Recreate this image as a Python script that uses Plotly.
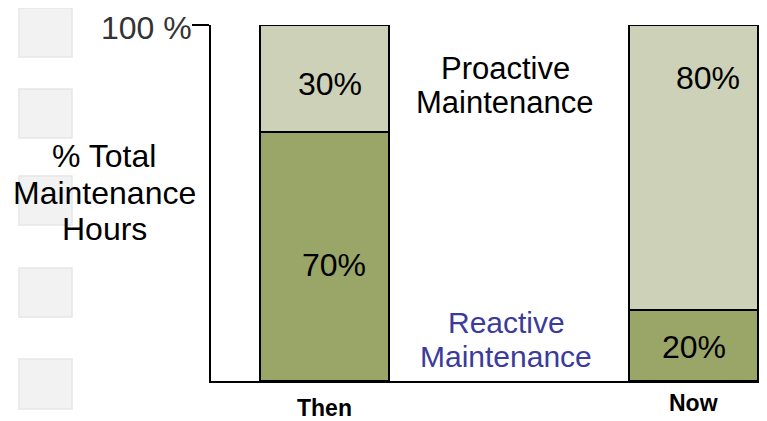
import plotly.graph_objects as go

categories = ["Then", "Now"]
reactive = [70, 20]
proactive = [30, 80]
reactive_labels = ["70%", "20%"]
proactive_labels = ["30%", "80%"]
y_tick_label = "100 %"

OFF = 8  # default page body margin
W, H = 767 - OFF, 421 - OFF
L, R, T, B = 211 - OFF, 0, 25 - OFF, 40
PW, PH = W - L - R, H - T - B

def px2paper(px, py):
    return (px - OFF - L) / PW, (H - B - (py - OFF)) / PH

FONT = "Liberation Sans, Arial, sans-serif"
dark = "#9aa568"
light = "#ccd1b8"
xs = [0, 1]

fig = go.Figure()
fig.add_trace(go.Bar(x=xs, y=reactive, marker=dict(color=dark, line=dict(color="black", width=1.5)),
                     width=0.35, showlegend=False, hoverinfo="skip"))
fig.add_trace(go.Bar(x=xs, y=proactive, marker=dict(color=light, line=dict(color="black", width=1.5)),
                     width=0.35, showlegend=False, hoverinfo="skip"))

ann = []
SZ = 32
# bar value labels (positions relative to data)
ann.append(dict(x=xs[0] + 0.025, y=reactive[0] / 2 - 2.4, xref="x", yref="y",
                text=reactive_labels[0], showarrow=False, font=dict(family=FONT, size=SZ, color="black")))
ann.append(dict(x=xs[1] + 0.0, y=reactive[1] / 2 - 0.5, xref="x", yref="y",
                text=reactive_labels[1], showarrow=False, font=dict(family=FONT, size=SZ, color="black")))
ann.append(dict(x=xs[0] + 0.015, y=reactive[0] + proactive[0] / 2 - 1.7, xref="x", yref="y",
                text=proactive_labels[0], showarrow=False, font=dict(family=FONT, size=SZ, color="black")))
ann.append(dict(x=xs[1] + 0.04, y=reactive[1] + proactive[1] / 2 + 25, xref="x", yref="y",
                text=proactive_labels[1], showarrow=False, font=dict(family=FONT, size=SZ, color="black")))

def txt(px, py, s, color="black", size=SZ, bold=False, h=None):
    x, y = px2paper(px, py)
    d = dict(x=x, y=y, xref="paper", yref="paper", text=("<b>%s</b>" % s) if bold else s,
             showarrow=False, font=dict(family=FONT, size=size, color=color),
             xanchor="center", yanchor="middle", valign="middle")
    if h:
        d["height"] = h
    ann.append(d)

txt(505, 68, "Proactive", size=31, h=33)
txt(505, 102, "Maintenance", size=31, h=33)
txt(506, 322.5, "Reactive", color="#3b3b9b", size=30, h=33)
txt(506, 356.5, "Maintenance", color="#3b3b9b", size=30, h=33)
txt(104, 155, "% Total", h=35)
txt(104, 192, "Maintenance", h=35)
txt(104, 228, "Hours", h=35)
txt(146, 28, y_tick_label, color="#333333")
txt(324, 408, categories[0], size=23, bold=True)
txt(693, 403, categories[1], size=23, bold=True)

shapes = []
for (y0, y1) in [(8, 57), (89, 138), (176, 225), (268, 317), (359, 409)]:
    x0p, y0p = px2paper(19, y1)
    x1p, y1p = px2paper(72, y0)
    shapes.append(dict(type="rect", xref="paper", yref="paper", x0=x0p, x1=x1p, y0=y0p, y1=y1p,
                       fillcolor="#f2f2f2", line=dict(color="#e6e6e6", width=1.5), layer="below"))

fig.update_layout(
    width=W, height=H, margin=dict(l=L, r=R, t=T, b=B),
    barmode="stack", plot_bgcolor="white", paper_bgcolor="white",
    xaxis=dict(range=[-(324.5 - 211) / 369, (767 - 324.5) / 369], tickvals=xs,
               showticklabels=False,
               showline=True, linecolor="black", linewidth=2, showgrid=False, zeroline=False,
               ticks="", fixedrange=True),
    yaxis=dict(range=[0, 100], tickvals=[100], showticklabels=False,
               showline=True, linecolor="black", linewidth=2, ticks="outside", ticklen=17,
               tickwidth=1.5, tickcolor="black", showgrid=False, zeroline=False, fixedrange=True),
    annotations=ann, shapes=shapes,
)
fig.write_html("out.html")
